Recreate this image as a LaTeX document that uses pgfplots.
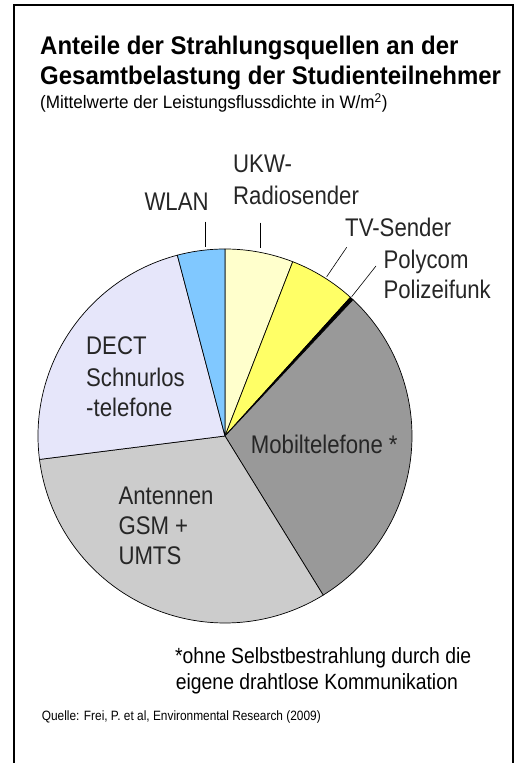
\documentclass[border=0pt]{standalone}
\usepackage{pgfplots}
\usepackage{pgfplotstable}
\pgfplotsset{compat=1.18}
\usepackage{fontspec}
\setmainfont{Liberation Sans}
\newfontfamily\titlefont{Liberation Sans}[FakeStretch=0.94]
\newfontfamily\labelfont{Liberation Sans}[FakeStretch=0.87]
\newfontfamily\footfont{Liberation Sans}[FakeStretch=0.88]
\newfontfamily\subfont{Liberation Sans}[FakeStretch=0.95]

\definecolor{ukw}{HTML}{FFFFCC}
\definecolor{tv}{HTML}{FFFF66}
\definecolor{polycom}{HTML}{000000}
\definecolor{mobil}{HTML}{999999}
\definecolor{antennen}{HTML}{CCCCCC}
\definecolor{dect}{HTML}{E6E6FA}
\definecolor{wlan}{HTML}{80C8FF}

% share in percent, clockwise from 12 o'clock
\pgfplotstableread{
label value color
UKW 5.9 ukw
TV 5.8 tv
Polycom 0.3 polycom
Mobil 29.2 mobil
Antennen 31.8 antennen
DECT 22.9 dect
WLAN 4.1 wlan
}\piedata

\begin{document}
\begin{tikzpicture}[x=1pt,y=1pt]
\useasboundingbox (0,0) rectangle (514,763);
% frame
\draw[line width=1.3pt] (14,-2) -- (14,758) -- (513,758) -- (513,-2);

% titles
\node[anchor=base west,inner sep=0pt] at (40,708) {\titlefont\bfseries\fontsize{25.5}{30}\selectfont Anteile der Strahlungsquellen an der};
\node[anchor=base west,inner sep=0pt] at (40,678.5) {\titlefont\bfseries\fontsize{25.5}{30}\selectfont Gesamtbelastung der Studienteilnehmer};
\node[anchor=base west,inner sep=0pt] at (40,654.5) {\subfont\fontsize{18}{22}\selectfont (Mittelwerte der Leistungsflussdichte in W/m\textsuperscript{2})};

\begin{axis}[hide axis, scale only axis, width=374pt, height=374pt,
  xmin=-1, xmax=1, ymin=-1, ymax=1, at={(225pt,327pt)}, anchor=center, clip=false]
\pgfplotstablegetrowsof{\piedata}
\pgfmathtruncatemacro{\N}{\pgfplotsretval-1}
\gdef\cum{90}
\pgfplotsforeachungrouped \i in {0,...,\N}{%
  \pgfplotstablegetelem{\i}{value}\of{\piedata}\let\val\pgfplotsretval
  \pgfplotstablegetelem{\i}{color}\of{\piedata}\let\col\pgfplotsretval
  \pgfmathsetmacro{\endang}{\cum-3.6*\val}%
  \edef\temp{\noexpand\filldraw[fill=\col, draw=black, line width=0.7pt, line join=round]
    (axis cs:0,0) -- (axis cs:{cos(\cum)},{sin(\cum)})
    arc[start angle=\cum, end angle=\endang, radius=187pt] -- cycle;}%
  \temp
  \xdef\cum{\endang}%
}
\end{axis}

% leader lines
\draw[line width=0.6pt] (205.7,541.3) -- (205.7,516.3);
\draw[line width=0.6pt] (260,540.3) -- (260,514.7);
\draw[line width=0.6pt] (346.7,515.7) -- (326.7,486.3);
\draw[line width=0.6pt] (376,497) -- (351.7,466.3);

% labels
\begin{scope}[every node/.style={anchor=base west,inner sep=0pt,font=\labelfont\fontsize{25.5}{30}\selectfont,text=black!85}]
\node at (233,590) {UKW-};
\node at (233,558) {Radiosender};
\node at (345,526.3) {TV-Sender};
\node at (383.3,494.7) {Polycom};
\node at (383.3,464.7) {Polizeifunk};
\node at (144.3,552.3) {WLAN};
\node at (86,408) {DECT};
\node at (86,376.3) {Schnurlos};
\node at (86,346.3) {-telefone};
\node at (250.7,309.7) {Mobiltelefone *};
\node at (118.3,258) {Antennen};
\node at (118.3,228) {GSM +};
\node at (118.3,198) {UMTS};
\end{scope}

% footnotes
\node[anchor=base west,inner sep=0pt] at (175,99.7) {\footfont\fontsize{22}{26}\selectfont *ohne Selbstbestrahlung durch die};
\node[anchor=base west,inner sep=0pt] at (175.7,73) {\footfont\fontsize{22}{26}\selectfont eigene drahtlose Kommunikation};
\node[anchor=base west,inner sep=0pt] at (41.7,42.3) {\footfont\fontsize{13.5}{16}\selectfont Quelle: Frei, P. et al, Environmental Research (2009)};
\end{tikzpicture}
\end{document}
